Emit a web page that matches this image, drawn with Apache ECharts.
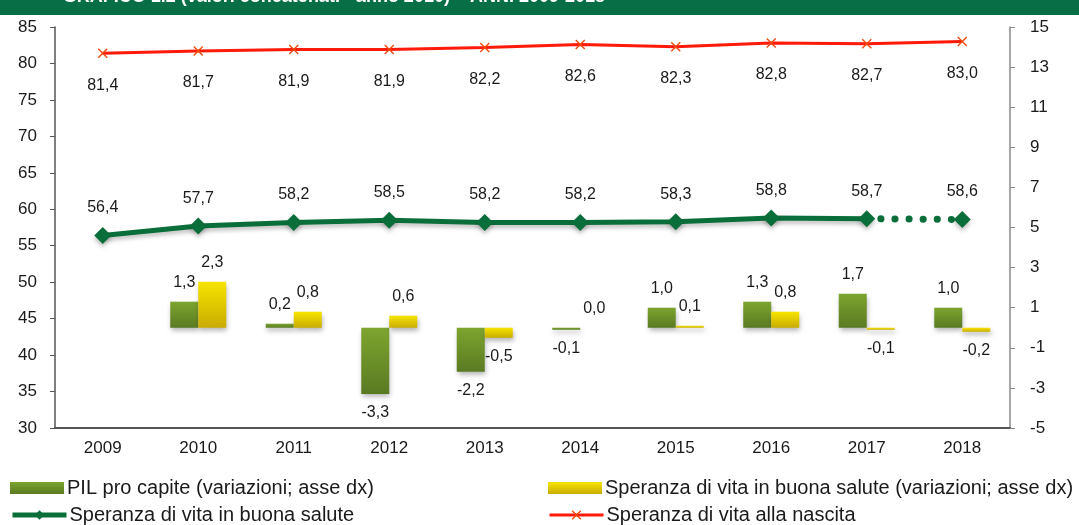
<!DOCTYPE html>
<html>
<head>
<meta charset="utf-8">
<script src="https://cdn.jsdelivr.net/npm/echarts@6/dist/echarts.min.js"></script>
<style>
html,body{margin:0;padding:0;background:#fff;}
#c{width:1079px;height:525px;}
</style>
</head>
<body>
<div id="c"></div>
<script>
var years = ['2009','2010','2011','2012','2013','2014','2015','2016','2017','2018'];
var lifeBirth = [81.4, 81.7, 81.9, 81.9, 82.2, 82.6, 82.3, 82.8, 82.7, 83.0];
var lifeHealthy = [56.4, 57.7, 58.2, 58.5, 58.2, 58.2, 58.3, 58.8, 58.7, 58.6];
var pilVar = [null, 1.3, 0.2, -3.3, -2.2, -0.1, 1.0, 1.3, 1.7, 1.0];
var healthyVar = [null, 2.3, 0.8, 0.6, -0.5, 0.0, 0.1, 0.8, -0.1, -0.2];
var titleText = 'GRAFICO 1.2 (valori concatenati - anno 2010) \u2013 ANNI 2009-2018';

var names = {
  pil: 'PIL pro capite (variazioni; asse dx)',
  hv: 'Speranza di vita in buona salute (variazioni; asse dx)',
  healthy: 'Speranza di vita in buona salute',
  birth: 'Speranza di vita alla nascita'
};

function fmt(v){ return v.toFixed(1).replace('.', ','); }
function barData(arr){
  return arr.map(function(v){
    if (v === null) return null;
    return { value: v, label: { position: v < 0 ? 'bottom' : 'top' } };
  });
}
var lastIdx = years.length - 1;
var healthySolid = lifeHealthy.map(function(v,i){ return i < lastIdx ? v : null; });
var healthyDotted = lifeHealthy.map(function(v,i){ return i >= lastIdx - 1 ? v : null; });

var FONT = '"Liberation Sans", Arial, sans-serif';
var NARROW = '"Liberation Sans Narrow", "Arial Narrow", "Liberation Sans", sans-serif';
var GREEN = '#0A6E3A';
var RED = '#FF1A0A';
var crossPath = 'path://M0,1 L1,0 L5,4 L9,0 L10,1 L6,5 L10,9 L9,10 L5,6 L1,10 L0,9 L4,5 Z';

var pilColor = new echarts.graphic.LinearGradient(0,0,0,1,[{offset:0,color:'#7DA52F'},{offset:1,color:'#5A7A22'}]);
var hvColor = new echarts.graphic.LinearGradient(0,0,0,1,[{offset:0,color:'#F7E400'},{offset:1,color:'#C9AC00'}]);

var chart = echarts.init(document.getElementById('c'), null, {renderer:'canvas'});

function legendAt(left, top, name, lw){
  return { left: left, top: top, orient: 'horizontal', itemWidth: 54, itemHeight: 12, itemGap: 0, padding: 0,
    icon: lw ? undefined : 'rect',
    lineStyle: lw ? { width: lw } : undefined,
    textStyle: { fontFamily: NARROW, fontSize: 20, color: '#1a1a1a', padding: [0,0,0,-2] },
    data: [name] };
}

chart.setOption({
  animation: false,
  backgroundColor: '#ffffff',
  graphic: [
    { type: 'rect', left: 0, top: 0, shape: { width: 1079, height: 15 }, style: { fill: '#086E45' }, z: 100 },
    { type: 'text', x: 605, y: 6, z: 101,
      style: { text: titleText, fill: '#ffffff', font: 'bold 18px ' + FONT, textAlign: 'right', textVerticalAlign: 'bottom' } }
  ],
  grid: { left: 55, right: 69, top: 27, bottom: 97, containLabel: false },
  legend: [
    legendAt(10, 478, names.pil),
    legendAt(10, 505, names.healthy, 5),
    legendAt(548, 478, names.hv),
    legendAt(548, 505, names.birth, 3)
  ],
  xAxis: {
    type: 'category', data: years, boundaryGap: true,
    axisLine: { onZero: false, lineStyle: { color: '#555', width: 2 } },
    axisTick: { show: false },
    axisLabel: { fontFamily: FONT, fontSize: 17, color: '#1a1a1a', margin: 12 },
    splitLine: { show: false }
  },
  yAxis: [
    { type: 'value', min: 30, max: 85, interval: 5, position: 'left',
      axisLine: { show: true, lineStyle: { color: '#555', width: 1.5 } },
      axisTick: { show: true, length: 5, lineStyle: { color: '#555' } },
      axisLabel: { fontFamily: FONT, fontSize: 17, color: '#1a1a1a', margin: 18 },
      splitLine: { show: false } },
    { type: 'value', min: -5, max: 15, interval: 2, position: 'right',
      axisLine: { show: true, lineStyle: { color: '#8a8a8a', width: 1.5 } },
      axisTick: { show: true, length: 5, lineStyle: { color: '#8a8a8a' } },
      axisLabel: { fontFamily: FONT, fontSize: 17, color: '#1a1a1a', margin: 20 },
      splitLine: { show: false } }
  ],
  series: [
    { name: names.pil, type: 'bar', yAxisIndex: 1, data: barData(pilVar),
      barWidth: 28, barGap: '0%',
      itemStyle: { color: pilColor, shadowColor: 'rgba(0,0,0,0.3)', shadowBlur: 5, shadowOffsetX: 1, shadowOffsetY: 3 },
      label: { show: true, distance: 11, formatter: function(p){ return fmt(p.value); }, fontFamily: FONT, fontSize: 16, color: '#1a1a1a' } },
    { name: names.hv, type: 'bar', yAxisIndex: 1, data: barData(healthyVar),
      barWidth: 28, barGap: '0%',
      itemStyle: { color: hvColor, shadowColor: 'rgba(0,0,0,0.3)', shadowBlur: 5, shadowOffsetX: 1, shadowOffsetY: 3 },
      label: { show: true, distance: 11, formatter: function(p){ return fmt(p.value); }, fontFamily: FONT, fontSize: 16, color: '#1a1a1a' } },
    { name: names.healthy, type: 'line', yAxisIndex: 0, data: healthySolid,
      symbol: 'diamond', symbolSize: 17, showAllSymbol: true,
      lineStyle: { color: GREEN, width: 5, shadowColor: 'rgba(0,0,0,0.25)', shadowBlur: 4, shadowOffsetY: 3 },
      itemStyle: { color: GREEN, shadowColor: 'rgba(0,0,0,0.25)', shadowBlur: 4, shadowOffsetY: 3 },
      label: { show: true, position: 'top', distance: 11, formatter: function(p){ return fmt(p.value); }, fontFamily: FONT, fontSize: 16, color: '#1a1a1a' },
      z: 5 },
    { name: 'healthyDotted', type: 'line', yAxisIndex: 0, data: healthyDotted,
      symbol: function(v, p){ return p.dataIndex === lastIdx ? 'diamond' : 'none'; },
      symbolSize: 17, showAllSymbol: true,
      lineStyle: { color: GREEN, width: 7, type: [0.1, 14], cap: 'round' },
      itemStyle: { color: GREEN, shadowColor: 'rgba(0,0,0,0.25)', shadowBlur: 4, shadowOffsetY: 3 },
      label: { show: true, position: 'top', distance: 11, formatter: function(p){ return p.dataIndex === lastIdx ? fmt(p.value) : ''; }, fontFamily: FONT, fontSize: 16, color: '#1a1a1a' },
      z: 5 },
    { name: names.birth, type: 'line', yAxisIndex: 0, data: lifeBirth,
      symbol: crossPath, symbolSize: 10, showAllSymbol: true,
      lineStyle: { color: RED, width: 3 },
      itemStyle: { color: '#F04A10' },
      label: { show: true, position: 'bottom', distance: 19, formatter: function(p){ return fmt(p.value); }, fontFamily: FONT, fontSize: 16, color: '#1a1a1a' },
      z: 6 }
  ]
});
</script>
</body>
</html>
